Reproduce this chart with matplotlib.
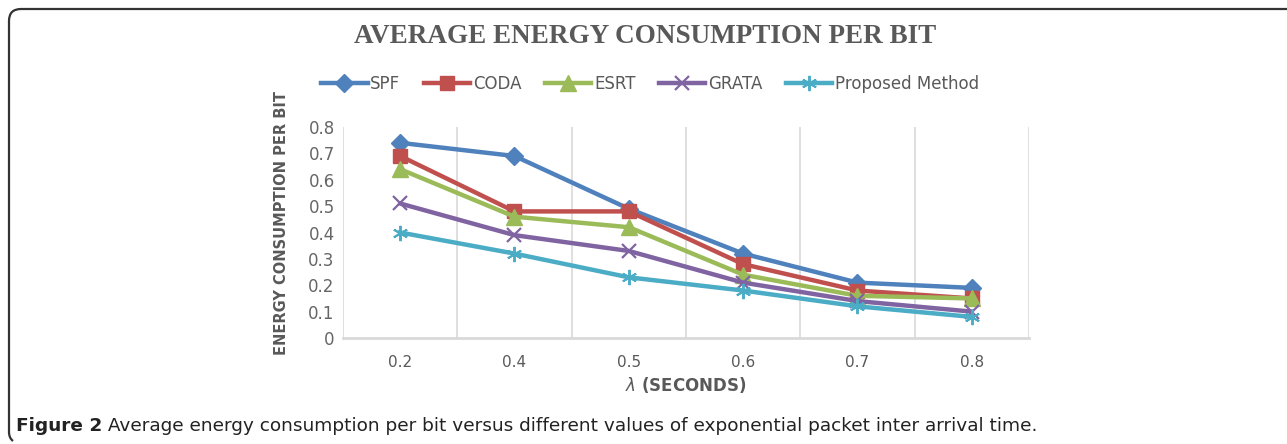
import matplotlib
matplotlib.use("Agg")
import matplotlib.pyplot as plt
from matplotlib.path import Path
from matplotlib.patches import PathPatch
import numpy as np

lambdas = ['0.2', '0.4', '0.5', '0.6', '0.7', '0.8']

spf = [0.74, 0.69, 0.49, 0.32, 0.21, 0.19]
coda = [0.69, 0.48, 0.48, 0.28, 0.18, 0.15]
esrt = [0.64, 0.46, 0.42, 0.24, 0.16, 0.15]
grata = [0.51, 0.39, 0.33, 0.21, 0.14, 0.10]
proposed = [0.40, 0.32, 0.23, 0.18, 0.12, 0.08]

names = ['SPF', 'CODA', 'ESRT', 'GRATA', 'Proposed Method']

txt = '#595959'

fig = plt.figure(figsize=(12.87, 4.44), dpi=100)
ax = fig.add_axes([343 / 1287, 1 - 338 / 444, (1029 - 343) / 1287, (338 - 127) / 444])

x = np.arange(len(lambdas))
ax.plot(x, spf, color='#4F81BD', lw=3.2, marker='D', ms=9, label=names[0])
ax.plot(x, coda, color='#C0504D', lw=3.2, marker='s', ms=10, label=names[1])
ax.plot(x, esrt, color='#9BBB59', lw=3.2, marker='^', ms=11, label=names[2])
ax.plot(x, grata, color='#8064A2', lw=3.2, marker='x', ms=10, mew=1.6, label=names[3])
ax.plot(x, proposed, color='#4BACC6', lw=3.2, marker=(6, 2, 0), ms=11, mew=1.4, label=names[4])

ax.set_xlim(-0.5, len(lambdas) - 0.5)
ax.set_ylim(0, 0.8)
ax.set_yticks(np.arange(0, 0.81, 0.1))
ax.set_yticklabels(['0' if v == 0 else '{:.1f}'.format(v) for v in np.arange(0, 0.81, 0.1)],
                   fontsize=12, color='#666666')
ax.set_xticks(x)
ax.set_xticklabels(lambdas, fontsize=11, color=txt)
ax.tick_params(length=0, pad=12)
ax.tick_params(axis='y', pad=6)

for b in np.arange(-0.5, len(lambdas), 1.0):
    ax.axvline(b, color='#D9D9D9', lw=1.2, zorder=0)
for s in ['top', 'right', 'left']:
    ax.spines[s].set_visible(False)
ax.spines['bottom'].set_color('#D9D9D9')
ax.spines['bottom'].set_linewidth(2)

ax.set_ylabel('ENERGY CONSUMPTION PER BIT', fontsize=10.5, fontweight='bold', color=txt)
ax.yaxis.set_label_coords(-0.079, 0.543)
ax.set_xlabel(r'$\lambda$ (SECONDS)', fontsize=12, fontweight='bold', color=txt, labelpad=4)

fig.text(645 / 1287, 1 - 36 / 444, 'AVERAGE ENERGY CONSUMPTION PER BIT', ha='center', va='center',
         fontsize=19.5, fontweight='bold', family='Liberation Serif', color=txt)

fig.legend(loc='center', bbox_to_anchor=(650 / 1287, 1 - 84 / 444), ncol=5, frameon=False,
           fontsize=12, handlelength=2.8, columnspacing=1.4, handletextpad=0.15,
           labelcolor=txt)

# caption
t1 = fig.text(16 / 1287, 1 - 426 / 444, 'Figure 2', fontsize=13.3, fontweight='bold',
              va='center', color='#222222')
ax.annotate(' Average energy consumption per bit versus different values of exponential packet inter arrival time.',
            xy=(1, 0.5), xycoords=t1, va='center', ha='left', fontsize=13.3,
            color='#222222', annotation_clip=False)

# border bracket (top and left edge with rounded corner)
W, H = 1287.0, 444.0
r = 12
verts = [((W + 10) / W, 1 - 9 / H), ((9 + r) / W, 1 - 9 / H), (9 / W, 1 - 9 / H), (9 / W, 1 - (9 + r) / H),
         (9 / W, 1 - 432 / H), (9 / W, 1 - 438 / H), (13 / W, 1 - 441 / H)]
codes = [Path.MOVETO, Path.LINETO, Path.CURVE3, Path.CURVE3, Path.LINETO, Path.CURVE3, Path.CURVE3]
fig.add_artist(PathPatch(Path(verts, codes), transform=fig.transFigure, fill=False,
                         edgecolor='#333333', lw=1.6))

fig.savefig('out.png', dpi=100)
